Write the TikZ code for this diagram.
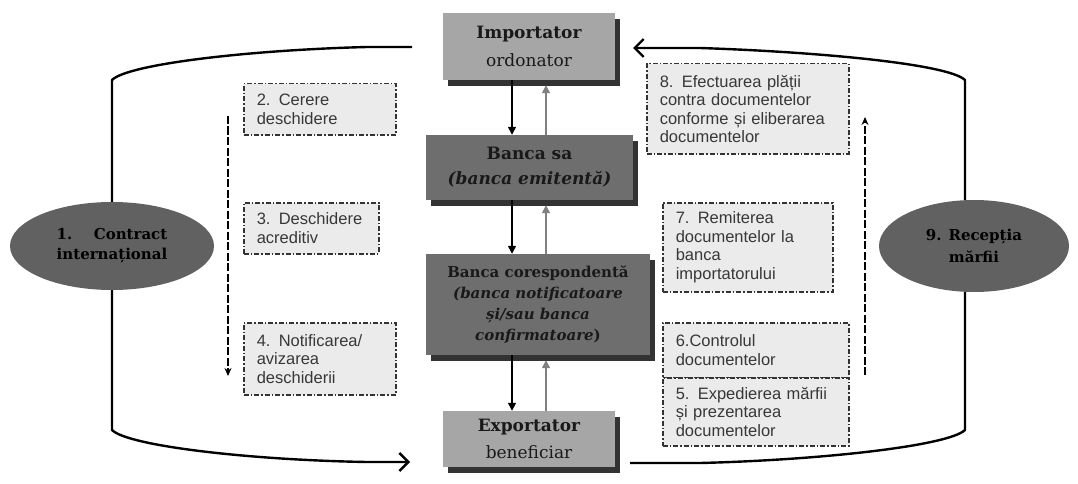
\documentclass[tikz,border=0pt]{standalone}
\usepackage{fontspec}
\setmainfont{DejaVu Serif}
\newfontfamily\notefont{Liberation Sans}
\usetikzlibrary{arrows.meta,shapes.geometric,shadows}
\newlength\myintw
\hyphenpenalty=10000
\exhyphenpenalty=10000
\begin{document}
\begin{tikzpicture}[x=1pt,y=-1pt,
  mainbox/.style={rectangle, inner sep=2pt, align=center, text=black!90,
    drop shadow={shadow xshift=5pt,shadow yshift=-6pt,fill=black!80,opacity=1}},
  note/.style={draw=black!80, line width=1.5pt,
    dash pattern=on 5pt off 2pt on 1.5pt off 2pt, fill=black!8,
    inner xsep=13pt, inner ysep=0pt, align=left, anchor=north west,
    font=\notefont\fontsize{16.5}{18.5}\selectfont, text=black!78},
  ell/.style={ellipse, fill=black!62, inner sep=0pt, align=center,
    font=\bfseries\fontsize{15}{20}\selectfont, text=black},
  darr/.style={line width=1.4pt, -{Triangle[length=8pt,width=8pt]}},
  uarr/.style={draw=black!50, line width=1.3pt, -{Triangle[length=8pt,width=8pt]}},
  mainline/.style={line width=2.4pt, line join=round},
  mainarr/.style={mainline, -{Straight Barb[length=9pt,width=18pt]}},
  vdash/.style={line width=1.3pt, dash pattern=on 8pt off 2.5pt, -{Stealth[length=8pt,width=7pt]}}
]
\useasboundingbox (0,0) rectangle (1078,484);

% main boxes
\node[mainbox, fill=black!35, minimum width=172pt, minimum height=67pt,
  font=\fontsize{17}{28}\selectfont] (imp) at (529,46.5) {\textbf{Importator}\\ordonator};
\node[mainbox, fill=black!57, minimum width=207pt, minimum height=65pt,
  font=\bfseries\fontsize{17}{25}\selectfont] (bsa) at (529.5,167.5) {Banca sa\\\textit{(banca emitentă)}};
\node[mainbox, fill=black!57, minimum width=224pt, minimum height=101pt,
  font=\bfseries\fontsize{15}{21}\selectfont] (bco) at (538,304.5)
  {Banca corespondentă\\\textit{(banca notificatoare}\\\textit{și/sau banca}\\\textit{confirmatoare})};
\node[mainbox, fill=black!35, minimum width=172pt, minimum height=56pt,
  font=\fontsize{17}{27}\selectfont] (exp) at (529,439) {\textbf{Exportator}\\beneficiar};

% ellipses
\node[ell, minimum width=204pt, minimum height=88pt] (e1) at (112,246)
  {\settowidth{\myintw}{internațional}\hbox to \myintw{1.\hfill Contract}\\internațional};
\node[ell, minimum width=190pt, minimum height=92pt] (e9) at (974,246)
  {9. Recepția\\[2pt]mărfii};

% dashed notes
\node[note, text width=126pt, minimum height=51pt] (n2) at (243,83) {2. Cerere\\deschidere};
\node[note, text width=109pt, minimum height=51pt] (n3) at (243,202) {3. Deschidere\\acreditiv};
\node[note, text width=126pt, minimum height=72pt] (n4) at (243,322) {4. Notificarea/\\avizarea\\deschiderii};
\node[note, text width=176pt, minimum height=90pt] (n8) at (646,63) {8. Efectuarea plății\\contra documentelor\\conforme și eliberarea\\documentelor};
\node[note, text width=144pt, minimum height=89pt] (n7) at (662,202) {7. Remiterea\\documentelor la\\banca\\importatorului};
\node[note, text width=160pt, minimum height=55pt] (n6) at (662,322) {6.Controlul\\documentelor};
\node[note, text width=160pt, minimum height=68pt] (n5) at (662,377) {5. Expedierea mărfii\\și prezentarea\\documentelor};

% center arrows
\coordinate (dn) at (512,0);
\coordinate (up) at (546,0);
\draw[darr] (imp.south -| dn) -- (bsa.north -| dn);
\draw[darr] (bsa.south -| dn) -- (bco.north -| dn);
\draw[darr] (bco.south -| dn) -- (exp.north -| dn);
\draw[uarr, shorten >=5pt] (bsa.north -| up) -- (imp.south -| up);
\draw[uarr, shorten >=5pt] (bco.north -| up) -- (bsa.south -| up);
\draw[uarr, shorten >=5pt] (exp.north -| up) -- (bco.south -| up);

% main connectors
\coordinate (lt) at (412,47);
\coordinate (lb) at (410,462);
\coordinate (rb) at (630,463);
\coordinate (rt) at (633,48);
\draw[mainline] (lt) -- (367,47) .. controls (250,50) and (128,64) .. (112,80) -- (e1.north);
\draw[mainarr] (e1.south) -- (112,430) .. controls (128,446) and (250,460) .. (367,462) -- (lb);
\draw[mainline] (rb) -- (700,463) .. controls (820,460) and (948,446) .. (965,430) -- (e9.south -| 965,0);
\draw[mainarr] (e9.north -| 965,0) -- (965,80) .. controls (948,64) and (820,52) .. (700,48) -- (rt);

% dashed vertical arrows
\coordinate (ls) at (228,116);
\coordinate (le) at (228,376);
\coordinate (rs) at (865,375);
\coordinate (re) at (865,117);
\draw[vdash] (ls) -- (le);
\draw[vdash] (rs) -- (re);
\end{tikzpicture}
\end{document}
